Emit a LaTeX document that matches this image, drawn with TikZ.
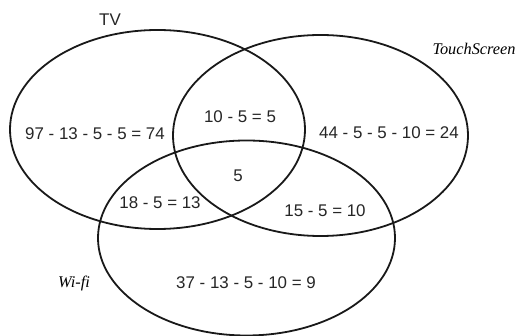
\documentclass[tikz,border=0pt]{standalone}
\usepackage{fontspec}
\setmainfont{Liberation Sans}
\newfontfamily\serifit{Liberation Serif}
\begin{document}
\begin{tikzpicture}[x=1pt,y=-1pt,
  setline/.style={line width=1.8pt,draw=black!90},
  num/.style={font=\fontsize{16.9}{18}\selectfont,text=black!85,inner sep=0pt},
  lab/.style={font=\serifit\itshape\fontsize{16.3}{18}\selectfont,inner sep=0pt}]
\useasboundingbox (0,0) rectangle (520,336);
\draw[setline] (157.5,129.5) ellipse [x radius=147.5, y radius=99.5];
\draw[setline] (320.5,135.5) ellipse [x radius=147.5, y radius=100.5];
\draw[setline] (246.5,238) ellipse [x radius=148.5, y radius=97.5];
\node[num] (tv) at (110,20) {TV};
\node[lab] (ts) at (474,49) {TouchScreen};
\node[lab] (wf) at (74,283) {Wi-fi};
\node[num] (a) at (95,134) {97 - 13 - 5 - 5 = 74};
\node[num] (ab) at (240,117) {10 - 5 = 5};
\node[num] (b) at (389,133) {44 - 5 - 5 - 10 = 24};
\node[num] (abc) at (238,176) {5};
\node[num] (ac) at (160,203) {18 - 5 = 13};
\node[num] (bc) at (325,211) {15 - 5 = 10};
\node[num] (c) at (246,283) {37 - 13 - 5 - 10 = 9};
\end{tikzpicture}
\end{document}
